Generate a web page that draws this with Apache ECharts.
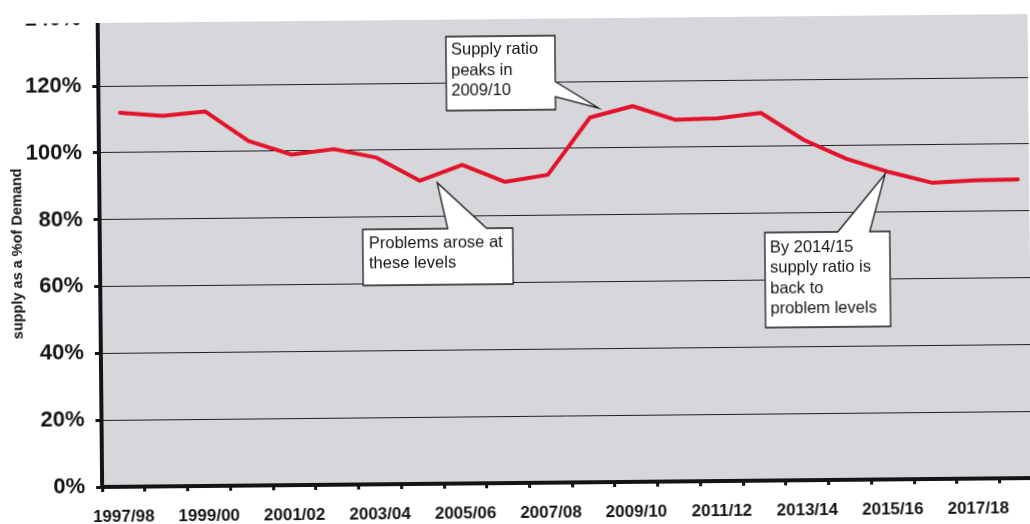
<!DOCTYPE html>
<html>
<head>
<meta charset="utf-8">
<title>Supply as a % of Demand</title>
<script src="https://cdn.jsdelivr.net/npm/echarts@6/dist/echarts.min.js"></script>
<style>
  html, body { margin: 0; padding: 0; background: #ffffff; overflow: hidden; }
  #chart {
    width: 1030px; height: 524px;
    transform: rotate(-0.55deg);
    transform-origin: 515px 262px;
  }
</style>
</head>
<body>
<div id="chart"></div>
<script>
// Financial years on the category axis
const years = [
  '1997/98', '1998/99', '1999/00', '2000/01', '2001/02', '2002/03',
  '2003/04', '2004/05', '2005/06', '2006/07', '2007/08', '2008/09',
  '2009/10', '2010/11', '2011/12', '2012/13', '2013/14', '2014/15',
  '2015/16', '2016/17', '2017/18', '2018/19'
];

// Supply as a percentage of demand, per year
const supplyRatio = [
  111.9, 110.8, 112.0, 103.1, 98.9, 100.4,
  97.7, 90.7, 95.3, 90.1, 92.1, 109.1,
  112.4, 108.2, 108.5, 110.0, 101.8, 96.0,
  91.9, 88.6, 89.2, 89.4
];

// Value axis range and step (percent)
const yMin = 0;
const yMax = 140;
const yStep = 20;

// Callout texts
const calloutPeak = ['Supply ratio', 'peaks in', '2009/10'];
const calloutProblems = ['Problems arose at', 'these levels'];
const calloutBack = ['By 2014/15', 'supply ratio is', 'back to', 'problem levels'];

const FONT = '"Liberation Sans", Arial, Helvetica, sans-serif';
const INK = '#141414';

// Speech-bubble outlines (box with pointer) and their text anchors
const callouts = [
  {
    lines: calloutPeak,
    outline: [[448, 36], [557, 36], [557, 82], [600, 109], [557, 97], [557, 110], [448, 110]],
    textAt: [453, 39.5]
  },
  {
    lines: calloutProblems,
    outline: [[363, 228], [448, 228], [438, 182], [487, 228], [513, 228], [513, 284], [363, 284]],
    textAt: [369, 232]
  },
  {
    lines: calloutBack,
    outline: [[765, 235], [838, 235], [886, 177.5], [870, 235], [890, 235], [890, 330], [765, 330]],
    textAt: [770, 240]
  }
];

const graphics = [
  // white band along the top edge of the sheet
  {
    type: 'rect', z: 100,
    shape: { x: -60, y: -60, width: 1200, height: 79 },
    style: { fill: '#ffffff' }
  }
];
callouts.forEach(function (c) {
  graphics.push({
    type: 'polygon', z: 50,
    shape: { points: c.outline },
    style: { fill: '#ffffff', stroke: '#1c1c1c', lineWidth: 1.3 }
  });
  graphics.push({
    type: 'text', z: 51,
    x: c.textAt[0], y: c.textAt[1],
    style: {
      text: c.lines.join('\n'),
      fontFamily: FONT, fontSize: 16.5, lineHeight: 20.5,
      fill: INK, align: 'left', verticalAlign: 'top'
    }
  });
});

const chart = echarts.init(document.getElementById('chart'), null, { renderer: 'canvas' });

chart.setOption({
  animation: false,
  backgroundColor: 'transparent',
  grid: {
    left: 100, top: 15, width: 940, bottom: 41,
    show: true, backgroundColor: '#d5d7db', borderWidth: 0,
    containLabel: false, outerBoundsMode: 'none'
  },
  xAxis: {
    type: 'category',
    data: years,
    boundaryGap: true,
    axisLine: { show: true, lineStyle: { color: INK, width: 4 } },
    axisTick: { show: true, interval: 0, length: 5, inside: false, alignWithLabel: false,
      lineStyle: { color: INK, width: 3 } },
    axisLabel: { interval: 1, margin: 22, color: INK, fontFamily: FONT,
      fontWeight: 'bold', fontSize: 17 },
    splitLine: { show: false }
  },
  yAxis: {
    type: 'value',
    min: yMin, max: yMax, interval: yStep,
    name: 'supply as a %of Demand',
    nameLocation: 'middle',
    nameGap: 75,
    nameMoveOverlap: false,
    nameTextStyle: { color: INK, fontFamily: FONT, fontWeight: 'bold', fontSize: 14.5 },
    axisLine: { show: true, lineStyle: { color: INK, width: 4 } },
    axisTick: { show: true, length: 6, inside: false, lineStyle: { color: INK, width: 3 } },
    axisLabel: { formatter: '{value}%', margin: 17, color: INK, fontFamily: FONT,
      fontWeight: 'bold', fontSize: 22, padding: [4, 0, 0, 0] },
    splitLine: { show: true, lineStyle: { color: '#222222', width: 1 } }
  },
  series: [{
    type: 'line',
    data: supplyRatio,
    symbol: 'none',
    z: 3,
    lineStyle: { color: '#e3132c', width: 4, cap: 'round', join: 'round' }
  }],
  graphic: graphics
});
</script>
</body>
</html>
